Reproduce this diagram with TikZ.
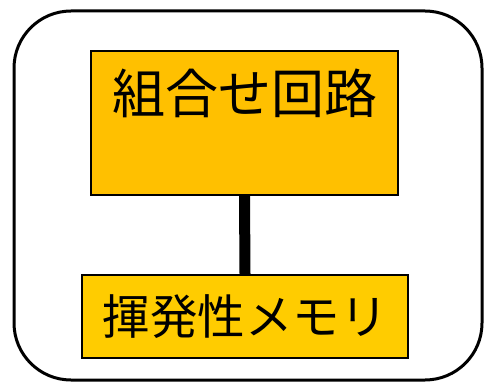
\documentclass[tikz,border=0pt]{standalone}
\usepackage{fontspec}
\setmainfont{Noto Sans CJK JP}
\usetikzlibrary{positioning}
\definecolor{gateorange}{HTML}{FFC000}
\definecolor{memyellow}{HTML}{FFCC00}
\tikzset{
  unitbox/.style={draw=black, line width=2pt, inner sep=0pt, font=\fontsize{53}{53}\selectfont}
}
\begin{document}
\begin{tikzpicture}[x=1pt, y=-1pt]
  \useasboundingbox (0,0) rectangle (484,382);
  % outer frame
  \draw[line width=3pt, rounded corners=57pt] (14,11) rectangle (482,380);
  \node[unitbox, fill=gateorange, minimum width=307pt, minimum height=144pt,
        text height=47pt, text depth=66pt] (comb) at (244.5,123) {組合せ回路};
  \node[unitbox, fill=memyellow, minimum width=326pt, minimum height=83pt,
        font=\fontsize{47.5}{47.5}\selectfont] (mem) at (245,316.5) {揮発性メモリ};
  \draw[line width=11pt] (comb.south) -- (mem.north);
\end{tikzpicture}
\end{document}
